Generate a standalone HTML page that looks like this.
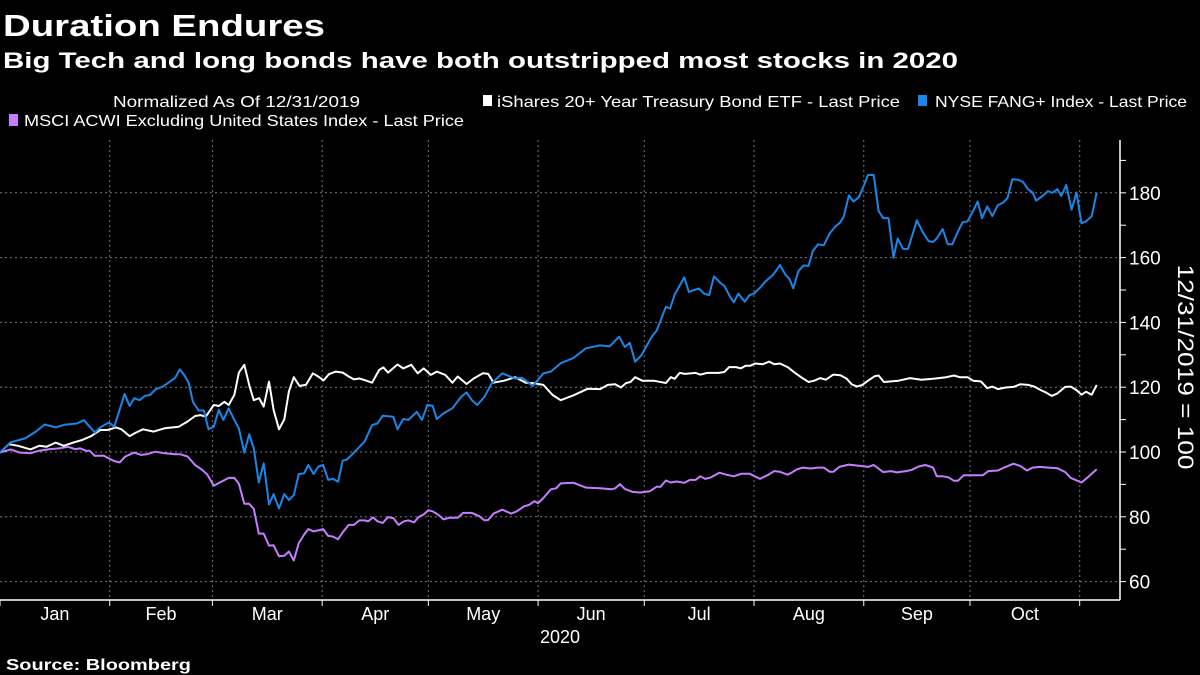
<!DOCTYPE html>
<html><head><meta charset="utf-8"><style>
html,body{margin:0;padding:0;background:#000;}
svg{display:block;font-family:"Liberation Sans",sans-serif;}
</style></head><body>
<svg id="chart" width="1200" height="675" viewBox="0 0 1200 675">
<rect x="0" y="0" width="1200" height="675" fill="#000"/>
<text x="3" y="36" fill="#fff" font-size="31" font-weight="bold" textLength="322" lengthAdjust="spacingAndGlyphs">Duration Endures</text>
<text x="3" y="68" fill="#fff" font-size="22" font-weight="bold" textLength="955" lengthAdjust="spacingAndGlyphs">Big Tech and long bonds have both outstripped most stocks in 2020</text>
<text x="113" y="107" fill="#fff" font-size="16" textLength="247" lengthAdjust="spacingAndGlyphs">Normalized As Of 12/31/2019</text>
<rect x="483" y="95" width="9" height="11" fill="#fff"/>
<text x="497" y="107" fill="#fff" font-size="16" textLength="403" lengthAdjust="spacingAndGlyphs">iShares 20+ Year Treasury Bond ETF - Last Price</text>
<rect x="918" y="95" width="9" height="11" fill="#1a86e8"/>
<text x="935" y="107" fill="#fff" font-size="16" textLength="252" lengthAdjust="spacingAndGlyphs">NYSE FANG+ Index - Last Price</text>
<rect x="9" y="114" width="9" height="12" fill="#c77dff"/>
<text x="24" y="126" fill="#fff" font-size="16" textLength="440" lengthAdjust="spacingAndGlyphs">MSCI ACWI Excluding United States Index - Last Price</text>
<g id="grid"></g>
<g id="axes"></g>
<g id="series"></g>
<text x="560" y="643" fill="#fff" font-size="18" text-anchor="middle">2020</text>
<text transform="translate(1178,367) rotate(90)" fill="#fff" font-size="22" text-anchor="middle" textLength="205" lengthAdjust="spacingAndGlyphs">12/31/2019 = 100</text>
<text x="6" y="670" fill="#fff" font-size="16" font-weight="bold" textLength="185" lengthAdjust="spacingAndGlyphs">Source: Bloomberg</text>
</svg>
<script>
const monthLabels = ["Jan","Feb","Mar","Apr","May","Jun","Jul","Aug","Sep","Oct"];
const monthStarts = [0,31,60,91,121,152,182,213,244,274,305];
const yTicks = [60,80,100,120,140,160,180];

const fangDays = [0,3.0,7.1,10.1,12.6,15.7,18.2,21.7,23.7,26.8,28.3,30.8,32.3,35.2,36.6,37.9,39.4,40.9,42.4,43.9,46.0,48.0,49.5,50.8,52.0,53.3,54.5,56.1,57.6,58.9,60.4,61.8,63.1,64.6,66.2,67.5,69.0,70.4,71.7,73.1,74.5,76.0,77.3,78.8,80.3,81.6,83.0,84.4,85.9,87.1,88.6,89.9,91.3,92.7,94.1,95.5,96.8,98.0,100.0,103.0,105.1,106.6,108.1,111.1,112.3,113.9,115.4,117.7,119.2,120.7,122.2,123.4,125.3,127.8,130.3,131.8,133.3,134.8,136.9,138.9,141.9,145.5,147.5,150.5,153.5,155.6,158.4,162,165.5,169.5,172.2,174.9,176.5,177.9,179.4,181.2,184.1,185.5,188.1,189.3,190.6,193.3,194.6,197.4,198.9,200.3,201.7,203.6,204.6,206.3,207.3,208.6,210.4,211.7,213.0,214.7,216.2,218.4,220.3,221.9,223.0,224.1,225.5,227.0,228.4,229.6,231.1,232.7,234.4,236.0,237.4,238.4,239.8,241.1,242.6,244.1,245.2,246.8,248.2,249.5,251.0,252.4,253.6,255.1,256.5,259.0,260.6,262.3,263.6,264.6,266.3,267.7,269.0,270.6,271.9,273.3,274.9,276.2,277.4,278.9,280.3,281.9,283.3,284.6,286.0,287.7,289.0,290.4,291.7,292.7,294.7,296.0,297.3,298.7,299.8,301.2,302.7,304.1,305.5,306.8,308.4,309.8];
const fangVals = [99.8,103.0,104.2,106.3,108.5,107.6,108.4,108.8,109.8,106.0,107.6,109.1,107.8,117.9,114.2,116.6,116.0,117.3,117.6,119.3,120.2,121.7,122.9,125.5,123.8,121.4,115.5,112.8,112.8,107.0,107.8,113.0,109.9,113.5,109.9,107.3,99.8,105.5,101.1,90.6,96.5,83.8,87.0,82.6,87.0,85.2,86.7,93.2,93.4,96.0,93.2,95.5,96.0,91.4,91.7,90.8,97.3,97.7,99.8,103.2,108.3,108.8,111.2,110.9,107.0,110.2,109.9,112.4,109.9,114.5,114.3,110.2,111.9,113.5,117.1,118.4,116.0,114.5,117.1,121.2,124.3,122.7,122.9,120.4,124.3,124.8,127.4,129,132,132.9,132.6,135.6,132.4,133.7,127.9,129.8,135.6,137.5,144.8,144.3,148.6,153.9,149.4,150.5,148.9,148.4,154.2,152.1,151.3,147.8,146.2,148.9,146.4,148.4,148.9,150.7,152.6,154.7,157.7,154.7,153.5,150.5,155.8,157.6,157.4,162.0,164.1,163.8,167.5,169.6,170.9,172.8,179.2,177.3,178.6,182.4,185.5,185.5,174.4,172.2,172.2,160.0,165.9,162.7,162.7,171.5,168.0,165.1,164.8,165.9,168.8,164.1,164.1,168.0,170.9,171.2,174.4,177.3,172.2,175.8,172.8,176.2,176.9,178.4,184.2,184.0,183.3,181.1,180.1,177.6,179.2,180.5,180.0,181.1,179.0,182.4,174.8,180.1,170.6,171.2,172.8,180.1];

const bondDays = [0,2.5,5.1,8.6,11.1,13.1,15.7,18.0,20.7,23.2,25.8,28.3,30.3,32.8,34.3,36.6,38.4,40.4,43.4,46.5,50.5,53.0,55.1,56.6,58.1,60.4,61.8,63.4,64.6,66.2,67.5,69.0,70.5,71.7,73.2,74.5,76.0,77.3,78.8,80.3,81.6,83.0,84.6,86.4,88.4,89.9,91.4,92.9,94.9,96.8,98.5,100.0,101.5,103.0,105.1,107.1,108.3,109.6,112.3,113.9,116.2,118.0,119.7,121.7,123.4,125.8,127.8,129.3,131.8,133.8,136.4,137.9,139.4,142.4,145.5,148.5,151.0,153.5,156.1,158.4,162,166,169.5,171.7,173.8,175.4,176.9,178.1,179.4,181.4,184.6,188.1,189.5,190.6,192.0,193.5,196.5,197.8,199.8,203.0,204.6,206.0,207.9,209.3,210.6,211.9,213.3,215.5,217.3,218.7,220.3,222.5,224.6,226.3,228.4,230.0,231.7,233.3,235.4,237.4,239.2,240.6,242.1,243.6,245.2,247.1,248.2,249.7,251.7,253.8,257.1,260.3,263.6,267.3,269.5,271.1,273.3,274.9,277.1,278.9,280.3,281.9,284.1,286.3,288.2,290.4,292.2,294.0,295.4,297.1,298.7,300.9,302.5,304.1,305.5,306.8,308.4,309.8];
const bondVals = [99.8,102.4,101.9,100.8,101.9,101.6,102.9,101.9,102.9,103.7,104.9,106.8,106.8,107.6,107.0,104.9,106.0,107.0,106.3,107.3,107.8,109.4,111.1,111.4,110.9,114.5,114.2,115.5,114.5,117.6,124.5,126.9,120.2,116.0,116.6,114.0,121.7,113.0,107.0,110.1,118.7,123.1,120.4,120.7,124.3,123.3,122.1,124.0,124.8,124.5,123.3,122.4,122.7,122.2,121.4,125.3,126.1,124.5,127.0,125.8,126.9,124.3,125.8,123.8,124.8,123.8,121.4,123.3,121.0,122.7,124.3,124.1,121.4,122.0,123.1,121.4,121.2,120.7,117.6,116.0,117.5,119.5,119.4,120.7,120.9,119.9,121.3,121.6,123.1,122.0,122.0,121.3,123.1,122.6,124.4,124.1,124.4,123.9,124.4,124.4,124.7,126.2,126.2,125.8,126.6,126.6,127.3,127.1,127.9,127.1,127.3,126.2,124.4,123.1,121.6,122.0,122.8,122.3,123.9,123.7,122.6,120.9,120.2,120.7,122.0,123.4,123.6,121.6,121.8,122.0,122.8,122.3,122.6,123.1,123.6,123.1,123.1,122.0,121.8,119.7,120.2,119.4,119.9,120.1,120.9,120.7,120.2,119.1,118.4,117.3,118.1,120.1,120.2,119.1,117.7,118.6,117.7,120.7];

const msciDays = [0,3.0,5.6,8.6,11.1,14.1,16.7,19.2,21.2,22.7,24.2,25.3,26.8,29.3,30.8,32.3,33.8,35.4,37.9,39.9,41.4,43.9,46.5,49.5,51.0,53.0,55.1,57.1,58.6,60.4,62.1,64.6,66.2,67.5,69.0,70.4,71.7,73.1,74.5,76.0,77.3,78.8,80.3,81.6,83.0,84.4,85.9,87.1,88.6,89.9,91.3,92.7,94.1,95.5,96.8,98.5,100.0,101.5,103.0,104.0,105.4,106.6,108.1,109.6,111.1,112.6,114.1,115.4,117.0,118.2,119.7,121.0,122.2,123.7,125.3,126.8,129.3,130.8,133.3,135.4,136.9,137.9,139.4,141.9,144.4,146.0,148.0,149.5,151.0,152.0,153.5,155.6,157.1,158.4,162,165.5,169.5,172.7,173.8,175.1,176.5,178.7,180.9,183.6,185.5,186.6,188.1,189.5,191.1,193.3,194.9,196.5,197.8,199.2,200.9,203.2,205.2,207.3,209.5,211.7,214.7,217.1,218.7,220.3,222.5,223.6,225.2,226.8,229.0,231.1,232.7,234.4,235.4,237.1,239.8,243.0,245.2,246.8,249.5,251.7,253.3,256.0,257.6,259.4,261.4,263.6,264.6,266.3,267.9,269.5,270.6,272.2,274.9,277.6,279.2,281.9,284.1,286.3,288.2,290.1,291.7,293.8,296.2,298.7,300.9,302.5,305.5,307.3,309.8];
const msciVals = [99.8,100.8,99.8,99.6,100.4,100.9,101.1,101.6,100.9,101.1,100.4,100.4,98.8,98.9,98.0,97.2,96.8,98.6,99.8,99.1,99.3,100.1,99.6,99.3,99.3,98.6,96.0,94.5,93.0,89.6,90.6,92.0,92.0,90.2,84.0,84.0,82.4,74.8,74.8,71.1,71.2,67.8,68.0,69.3,66.5,71.9,74.5,76.2,75.5,75.8,76.2,74.1,73.9,73.1,75.2,77.5,77.5,78.9,78.9,78.6,79.8,78.6,78.1,79.9,79.6,77.5,78.6,78.9,78.3,79.9,80.7,82.0,81.7,80.7,79.2,79.7,79.7,81.2,81.2,80.2,78.9,79.0,81.0,82.2,81.0,81.7,83.2,83.7,84.8,84.2,85.8,88.5,88.8,90.3,90.5,89.0,88.8,88.5,88.8,90.1,88.6,87.7,87.5,87.9,89.3,89.3,91.2,90.6,90.9,90.5,91.4,91.4,92.5,91.7,92.2,93.6,93.0,92.5,93.3,93.3,91.7,93.0,94.1,93.9,93.0,93.6,94.7,95.2,94.9,95.2,95.2,93.9,93.9,95.4,96.1,95.7,95.4,96.0,93.8,94.1,93.7,94.1,94.5,95.5,96.0,95.2,92.5,92.5,92.2,91.1,91.1,92.8,92.8,92.8,94.1,94.3,95.4,96.4,95.7,94.3,95.2,95.4,95.2,95.0,93.8,92.0,90.6,92.2,94.7];

const NS = "http://www.w3.org/2000/svg";
const X0 = 0, PX_PER_DAY = 3.54, AXIS_X = 1120, PLOT_TOP = 140, PLOT_BOTTOM = 600;
function xScale(d){ return X0 + d * PX_PER_DAY; }
function yScale(v){ return 452 - (v - 100) * 3.24; }
function mk(tag, attrs){ const e = document.createElementNS(NS, tag); for (const k in attrs) e.setAttribute(k, attrs[k]); return e; }

const grid = document.getElementById('grid');
const axes = document.getElementById('axes');
const series = document.getElementById('series');

yTicks.forEach(function(t){
  const y = yScale(t);
  const gl = mk('line', {x1:0, x2:AXIS_X, y1:y, y2:y, stroke:'#777', 'stroke-width':1, 'stroke-dasharray':'2,3'});
  
  
  grid.appendChild(gl);
  const lab = mk('text', {x:1129, y:y+7, fill:'#fff', 'font-size':19});
  lab.textContent = String(t);
  
  
  axes.appendChild(lab);
});
for (let v = 60; v <= 190; v += 10) {
  const y = yScale(v);
  const tk = mk('line', {x1:AXIS_X, x2:AXIS_X+6, y1:y, y2:y, stroke:'#fff', 'stroke-width':1});
  
  
  axes.appendChild(tk);
}
monthStarts.forEach(function(d, i){
  const x = xScale(d);
  if (i > 0) {
    const gl = mk('line', {x1:x, x2:x, y1:PLOT_TOP, y2:PLOT_BOTTOM, stroke:'#777', 'stroke-width':1, 'stroke-dasharray':'2,3'});
    
    
    grid.appendChild(gl);
  }
  const tk = mk('line', {x1:x, x2:x, y1:PLOT_BOTTOM, y2:PLOT_BOTTOM+6, stroke:'#fff', 'stroke-width':1});
  
  
  axes.appendChild(tk);
  if (i < monthLabels.length) {
    const mid = (xScale(d) + xScale(monthStarts[i+1])) / 2;
    const lab = mk('text', {x:mid, y:620, fill:'#fff', 'font-size':18, 'text-anchor':'middle'});
    lab.textContent = monthLabels[i];
    
    
    axes.appendChild(lab);
  }
});
const xAxis = mk('line', {x1:0, x2:AXIS_X, y1:PLOT_BOTTOM, y2:PLOT_BOTTOM, stroke:'#fff', 'stroke-width':1.5});


axes.appendChild(xAxis);
const yAxis = mk('line', {x1:AXIS_X, x2:AXIS_X, y1:PLOT_TOP, y2:PLOT_BOTTOM, stroke:'#fff', 'stroke-width':1.5});


axes.appendChild(yAxis);

function drawLine(days, vals, color){
  let d = '';
  for (let i = 0; i < days.length; i++) d += (i ? 'L' : 'M') + xScale(days[i]).toFixed(1) + ',' + yScale(vals[i]).toFixed(1);
  const p = mk('path', {d:d, fill:'none', stroke:color, 'stroke-width':2, 'stroke-linejoin':'round'});
  series.appendChild(p);
  return p;
}
const msciLine = drawLine(msciDays, msciVals, '#c77dff');


const bondLine = drawLine(bondDays, bondVals, '#ffffff');


const fangLine = drawLine(fangDays, fangVals, '#1a86e8');


</script>
</body></html>
